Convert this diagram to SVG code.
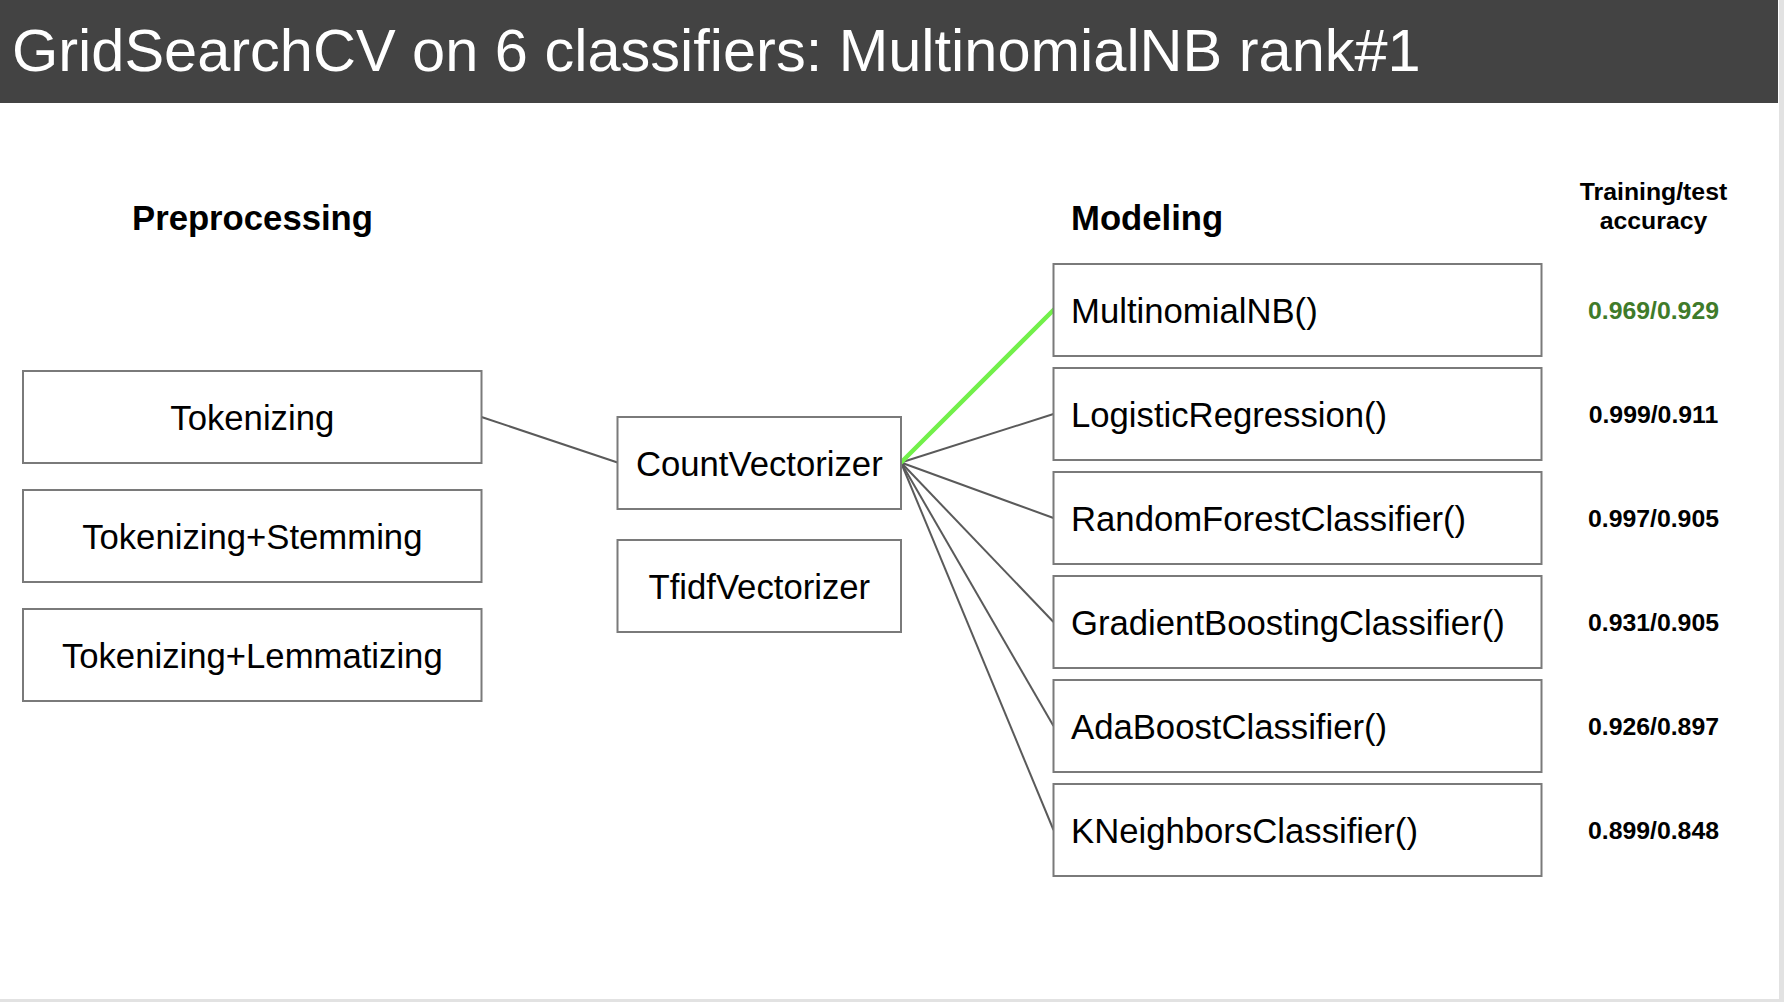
<svg xmlns="http://www.w3.org/2000/svg" width="1784" height="1002" viewBox="0 0 1784 1002">
<style>
.box{fill:#ffffff;stroke:#7a7a7a;stroke-width:2}
.lbl{font-family:"Liberation Sans",Arial,sans-serif;font-size:34.7px;fill:#000000}
.hd{font-family:"Liberation Sans",Arial,sans-serif;font-size:34.7px;font-weight:bold;fill:#000000}
.acc{font-family:"Liberation Sans",Arial,sans-serif;font-size:24.8px;font-weight:bold;fill:#000000;text-anchor:middle}
.edge{stroke:#5a5a5a;stroke-width:2;fill:none}
.best{stroke:#72f04a;stroke-width:4.5;fill:none;stroke-linecap:round}
</style>
<rect x="0" y="0" width="1784" height="1002" fill="#ffffff"/>
<rect x="1779" y="0" width="5" height="1002" fill="#e2e2e2"/>
<rect x="0" y="999" width="1784" height="3" fill="#e2e2e2"/>
<g id="header">
<rect x="0" y="0" width="1778" height="103" fill="#434343"/>
<text x="12" y="71" font-family="'Liberation Sans',Arial,sans-serif" font-size="59.5" fill="#ffffff">GridSearchCV on 6 classifiers: MultinomialNB rank#1</text>
</g>
<g id="headings">
<text class="hd" x="252.5" y="230" text-anchor="middle">Preprocessing</text>
<text class="hd" x="1071" y="230">Modeling</text>
<text class="acc" x="1653.5" y="200">Training/test</text>
<text class="acc" x="1653.5" y="229">accuracy</text>
</g>
<g id="connectors">
<line class="edge" x1="481.5" y1="417" x2="617.5" y2="462.5"/>
<line class="edge" x1="901" y1="462.5" x2="1053.5" y2="414"/>
<line class="edge" x1="901" y1="462.5" x2="1053.5" y2="518"/>
<line class="edge" x1="901" y1="462.5" x2="1053.5" y2="622"/>
<line class="edge" x1="901" y1="462.5" x2="1053.5" y2="726"/>
<line class="edge" x1="901" y1="462.5" x2="1053.5" y2="830"/>
<line class="best" x1="901" y1="462.5" x2="1053.5" y2="310"/>
</g>
<g id="tokenizing"><rect class="box" x="23" y="371" width="458.5" height="92"/><text class="lbl" x="252.3" y="430" text-anchor="middle">Tokenizing</text></g>
<g id="stemming"><rect class="box" x="23" y="490" width="458.5" height="92"/><text class="lbl" x="252.3" y="549" text-anchor="middle">Tokenizing+Stemming</text></g>
<g id="lemmatizing"><rect class="box" x="23" y="609" width="458.5" height="92"/><text class="lbl" x="252.3" y="668" text-anchor="middle">Tokenizing+Lemmatizing</text></g>
<g id="countvectorizer"><rect class="box" x="617.5" y="417" width="283.5" height="92"/><text class="lbl" x="759.3" y="475.5" text-anchor="middle">CountVectorizer</text></g>
<g id="tfidfvectorizer"><rect class="box" x="617.5" y="540" width="283.5" height="92"/><text class="lbl" x="759.3" y="598.5" text-anchor="middle">TfidfVectorizer</text></g>
<g id="multinomialnb"><rect class="box" x="1053.5" y="264" width="488" height="92"/><text class="lbl" x="1071" y="322.5">MultinomialNB()</text></g>
<g id="logisticregression"><rect class="box" x="1053.5" y="368" width="488" height="92"/><text class="lbl" x="1071" y="426.5">LogisticRegression()</text></g>
<g id="randomforest"><rect class="box" x="1053.5" y="472" width="488" height="92"/><text class="lbl" x="1071" y="530.5">RandomForestClassifier()</text></g>
<g id="gradientboosting"><rect class="box" x="1053.5" y="576" width="488" height="92"/><text class="lbl" x="1071" y="634.5">GradientBoostingClassifier()</text></g>
<g id="adaboost"><rect class="box" x="1053.5" y="680" width="488" height="92"/><text class="lbl" x="1071" y="738.5">AdaBoostClassifier()</text></g>
<g id="kneighbors"><rect class="box" x="1053.5" y="784" width="488" height="92"/><text class="lbl" x="1071" y="842.5">KNeighborsClassifier()</text></g>
<g id="accuracies">
<text class="acc" x="1653.5" y="318.6" style="fill:#3f7b2a">0.969/0.929</text>
<text class="acc" x="1653.5" y="422.6">0.999/0.911</text>
<text class="acc" x="1653.5" y="526.6">0.997/0.905</text>
<text class="acc" x="1653.5" y="630.6">0.931/0.905</text>
<text class="acc" x="1653.5" y="734.6">0.926/0.897</text>
<text class="acc" x="1653.5" y="838.6">0.899/0.848</text>
</g>
</svg>
